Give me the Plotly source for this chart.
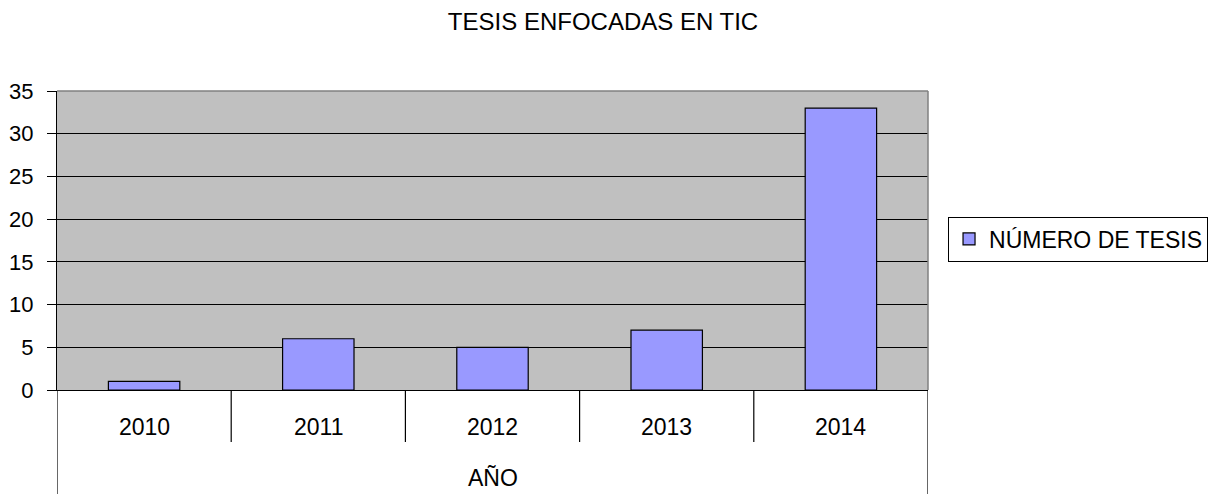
import plotly.graph_objects as go

categories = ["2010", "2011", "2012", "2013", "2014"]
values = [1, 6, 5, 7, 33]
series_name = "NÚMERO DE TESIS"
title_text = "TESIS ENFOCADAS EN TIC"
axis_title = "AÑO"
y_ticks = [0, 5, 10, 15, 20, 25, 30, 35]

FONT = "Liberation Sans, Arial, sans-serif"
idx = list(range(len(categories)))

W, H = 1209, 488
L, T, PW, PH = 49, 83, 871, 299

fig = go.Figure()
fig.add_trace(go.Bar(
    x=idx, y=values, name=series_name, width=0.41,
    marker=dict(color="#9999FF", line=dict(color="black", width=1.2)),
    showlegend=True,
))

shapes = []
shapes.append(dict(type="line", xref="paper", yref="paper", x0=0, x1=1, y0=1, y1=1,
                   line=dict(color="#808080", width=1.5), layer="above"))
shapes.append(dict(type="line", xref="paper", yref="paper", x0=1, x1=1, y0=0, y1=1,
                   line=dict(color="#808080", width=1.5), layer="above"))
n = len(categories)
for k in range(n + 1):
    xpos = k - 0.5
    depth = -104 if k in (0, n) else -52
    shapes.append(dict(type="line", xref="x", yref="paper", ysizemode="pixel", yanchor=0,
                       x0=xpos, x1=xpos, y0=0, y1=depth,
                       line=dict(color="black", width=1.2)))

annotations = []
for i, c in zip(idx, categories):
    annotations.append(dict(x=i, xref="x", y=0, yref="paper", yshift=-37, text=c,
                            showarrow=False, yanchor="middle",
                            font=dict(family=FONT, size=23, color="black")))
annotations.append(dict(x=0.5, xref="paper", y=0, yref="paper", yshift=-88, text=axis_title,
                        showarrow=False, yanchor="middle",
                        font=dict(family=FONT, size=23, color="black")))

fig.update_layout(
    width=W, height=H,
    margin=dict(l=L, r=W - L - PW, t=T, b=H - T - PH, autoexpand=False),
    paper_bgcolor="white", plot_bgcolor="#C0C0C0",
    title=dict(text=title_text, x=595 / W, xanchor="center", y=1 - 14 / H,
               yanchor="middle", font=dict(family=FONT, size=24, color="black"),
               automargin=False),
    font=dict(family=FONT, size=22, color="black"),
    shapes=shapes, annotations=annotations,
    showlegend=True,
    legend=dict(x=1.023, xanchor="left", y=0.505, yanchor="middle",
                bordercolor="black", borderwidth=1, bgcolor="white",
                font=dict(family=FONT, size=23, color="black"),
                itemwidth=30),
)
fig.update_xaxes(range=[-0.5, n - 0.5], showticklabels=False, ticks="", showgrid=False,
                 zeroline=False, showline=True, linecolor="black", linewidth=1.2,
                 automargin=False)
fig.update_yaxes(range=[0, 35], tickvals=y_ticks, ticks="outside", ticklen=9, tickwidth=1.2,
                 tickcolor="black", showgrid=True, gridcolor="black", gridwidth=1.2,
                 zeroline=False, showline=True, linecolor="black", linewidth=1.2,
                 ticklabelstandoff=9, tickfont=dict(family=FONT, size=22, color="black"),
                 automargin=False)

fig.write_html("out.html")
